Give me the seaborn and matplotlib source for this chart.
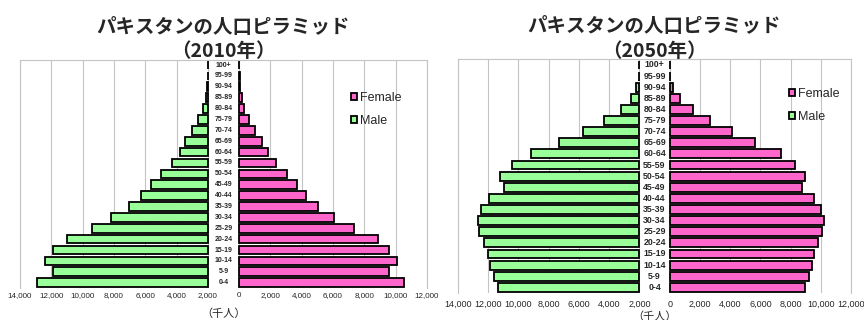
import matplotlib
matplotlib.use("Agg")
import matplotlib.pyplot as plt
from matplotlib.patches import Patch
import pandas as pd
import seaborn as sns

# 年齢階級（下から上）
ages = ["0-4", "5-9", "10-14", "15-19", "20-24", "25-29", "30-34", "35-39",
        "40-44", "45-49", "50-54", "55-59", "60-64", "65-69", "70-74",
        "75-79", "80-84", "85-89", "90-94", "95-99", "100+"]

# 人口（千人）
male_2010 = [10900, 9910, 10420, 9870, 8980, 7400, 6170, 5020, 4270, 3650,
             3010, 2310, 1780, 1460, 1030, 610, 330, 120, 45, 20, 5]
female_2010 = [10540, 9590, 10080, 9590, 8840, 7310, 6090, 5010, 4280, 3690,
               3050, 2360, 1830, 1490, 1020, 660, 320, 190, 50, 30, 5]
male_2050 = [9340, 9610, 9870, 10000, 10290, 10580, 10670, 10450, 9920, 8990,
             9210, 8410, 7180, 5330, 3740, 2370, 1250, 540, 210, 45, 10]
female_2050 = [8980, 9220, 9420, 9580, 9840, 10110, 10220, 10000, 9530, 8740,
               8940, 8320, 7370, 5670, 4120, 2670, 1540, 710, 220, 45, 10]

years = ["2010", "2050"]
x_ticks = list(range(-14000, 12001, 2000))

GAP = 2000  # 年齢ラベル用の中央の隙間
MALE_COLOR = "#99FF99"
FEMALE_COLOR = "#FF66CC"
JP_FONT = ["Noto Sans CJK JP", "DejaVu Sans"]

sns.set_style("white")
plt.rcParams["font.family"] = ["Liberation Sans", "Noto Sans CJK JP", "DejaVu Sans"]


def draw_pyramid(ax, year, male, female, tick_size, age_size, label_pad, xlabel_pad):
    df = pd.DataFrame({"age": ages, "male": [-v for v in male], "female": female})
    order = ages[::-1]

    sns.barplot(data=df, x="female", y="age", order=order, orient="h",
                color=FEMALE_COLOR, saturation=1, edgecolor="black",
                linewidth=1.3, width=0.8, ax=ax)
    n_female = len(ax.patches)
    sns.barplot(data=df, x="male", y="age", order=order, orient="h",
                color=MALE_COLOR, saturation=1, edgecolor="black",
                linewidth=1.3, width=0.8, ax=ax)

    # 男性の棒を中央の隙間の分だけ左へずらす
    for p in ax.patches[n_female:]:
        p.set_x(p.get_x() - GAP)

    for i, age in enumerate(order):
        ax.text(-GAP / 2, i, age, ha="center", va="center",
                fontsize=age_size, fontweight="bold")

    ax.set_xlim(-14000, 12000)
    ax.set_ylim(len(ages) - 0.5, -0.5)
    ax.set_xticks(x_ticks)
    ax.set_xticklabels([f"{abs(t):,}" for t in x_ticks], fontsize=tick_size)
    ax.tick_params(axis="x", length=0, pad=label_pad)
    ax.tick_params(axis="y", left=False, labelleft=False)
    ax.set_ylabel("")
    ax.set_xlabel("（千人）", family=JP_FONT, fontsize=8, labelpad=xlabel_pad)

    ax.set_axisbelow(True)
    ax.xaxis.grid(True, color="#c4c4c4", linewidth=0.8)
    ax.yaxis.grid(False)
    for side in ["top", "left", "right"]:
        ax.spines[side].set_color("#c4c4c4")
        ax.spines[side].set_linewidth(0.8)
    ax.spines["bottom"].set_visible(False)

    ax.set_title(f"パキスタンの人口ピラミッド\n（{year}年）", family=JP_FONT,
                 fontsize=14, fontweight="bold", linespacing=1.35, pad=2)


fig = plt.figure(figsize=(8.64, 3.2), dpi=100)
ax1 = fig.add_axes([0.0231, 0.0997, 0.4711, 0.714])
ax2 = fig.add_axes([0.5301, 0.0847, 0.4549, 0.7297])

draw_pyramid(ax1, years[0], male_2010, female_2010, 5.8, 5.0, 3.0, 6.5)
draw_pyramid(ax2, years[1], male_2050, female_2050, 6.5, 6.3, 5.0, 1.5)

handles = [
    Patch(facecolor=FEMALE_COLOR, edgecolor="black", linewidth=1.3, label="Female"),
    Patch(facecolor=MALE_COLOR, edgecolor="black", linewidth=1.3, label="Male"),
]
for anchor in [(0.406, 0.7125), (0.913, 0.725)]:
    fig.legend(handles=handles, loc="upper left", bbox_to_anchor=anchor,
               frameon=False, fontsize=9, handlelength=0.5, handleheight=0.5,
               handletextpad=0.2, labelspacing=0.85, borderpad=0,
               borderaxespad=0)

fig.savefig("out.png", dpi=100)
plt.close(fig)
